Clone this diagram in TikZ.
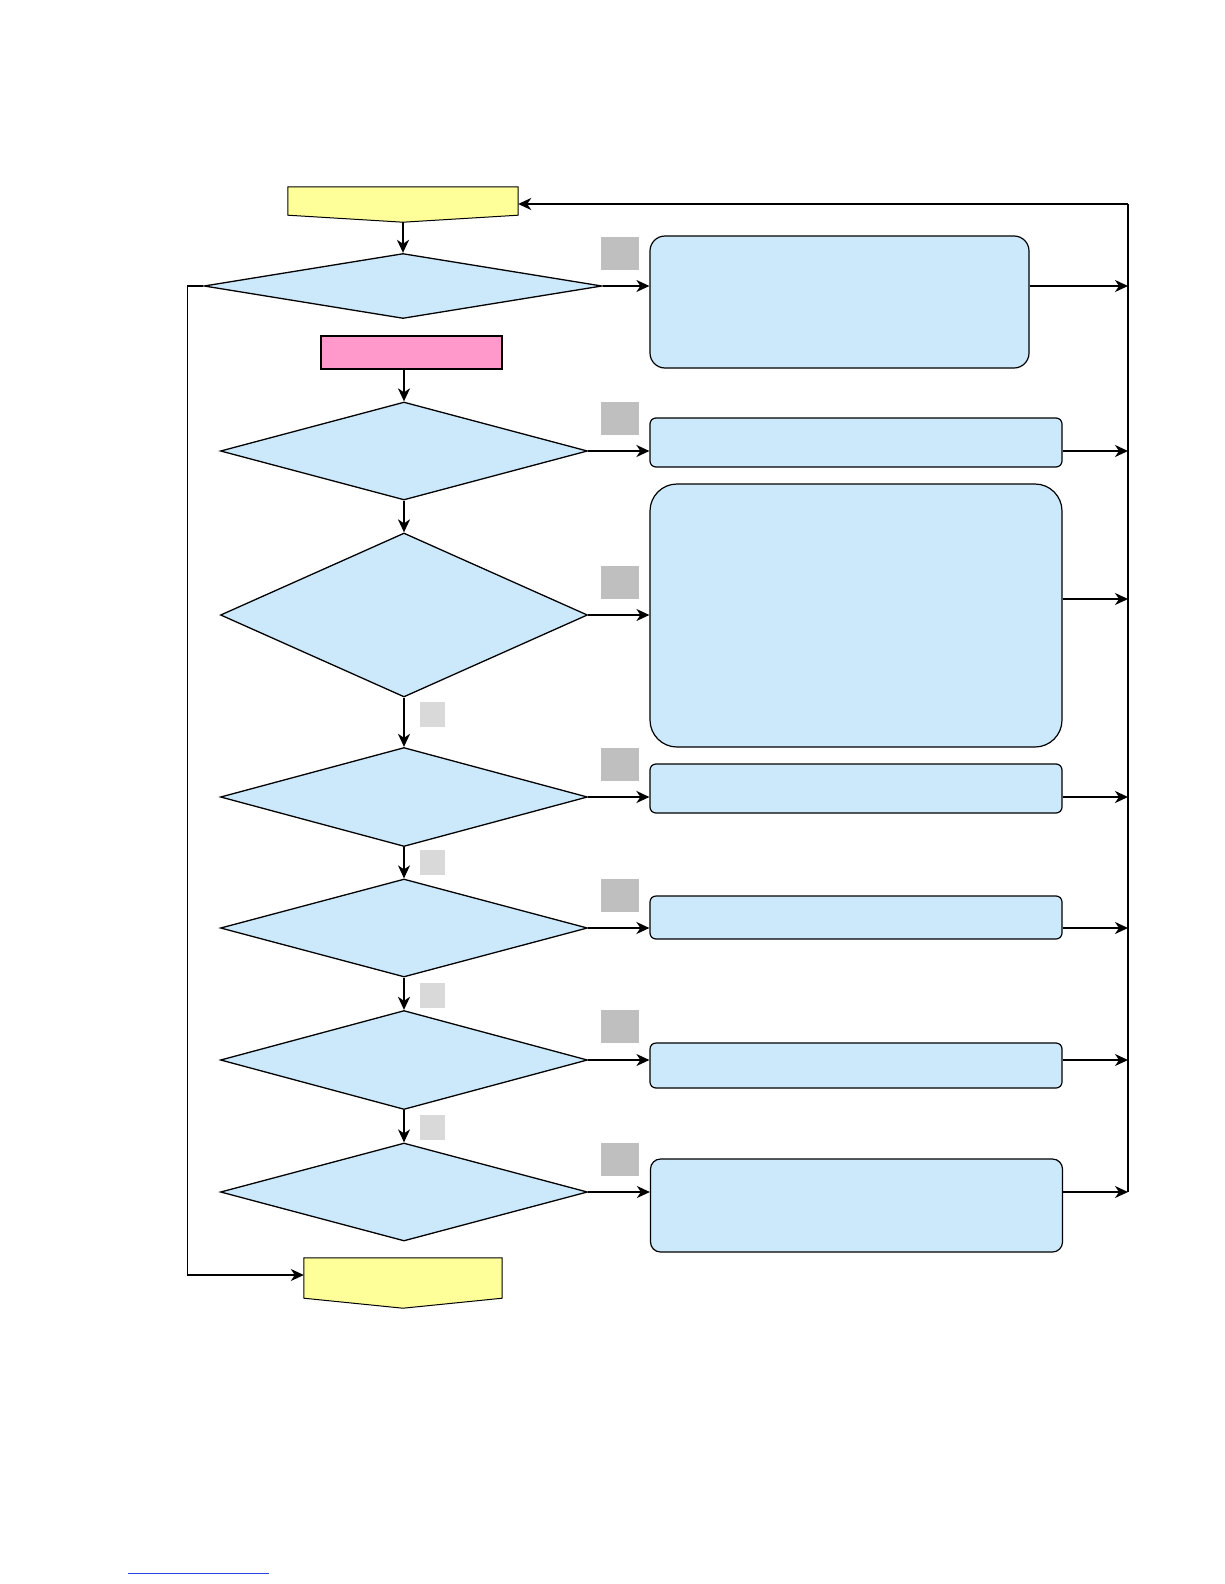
\documentclass[tikz,border=0pt]{standalone}
\usepackage{xcolor}
\usepackage{tikz}
\usetikzlibrary{arrows.meta, positioning, shapes.geometric}

\definecolor{panelblue}{RGB}{204,233,252}
\definecolor{termyellow}{RGB}{255,255,153}
\definecolor{entrypink}{RGB}{255,153,204}
\definecolor{badgegray}{RGB}{191,191,191}
\definecolor{taggray}{RGB}{217,217,217}
\definecolor{linkblue}{RGB}{40,70,220}

\begin{document}
\begin{tikzpicture}[
  x=1pt, y=-1pt,
  decision/.style={diamond, draw, fill=panelblue, inner sep=0pt, line width=1.3pt,
                   minimum width=367pt},
  action/.style={draw, fill=panelblue, line width=1.2pt, inner sep=0pt,
                 minimum width=412pt},
  badge/.style={fill=badgegray, inner sep=0pt, minimum width=38pt, minimum height=33pt},
  tag/.style={fill=taggray, inner sep=0pt, minimum width=25pt, minimum height=25pt},
  frame/.style={inner sep=0pt},
  arr/.style={-{Stealth[length=13pt, width=12pt, inset=4pt]}, line width=1.2pt},
  thickarr/.style={arr, line width=2pt}]
  \useasboundingbox (0,0) rectangle (1224,1584);

  % terminals and entry
  \node[frame, minimum width=230pt, minimum height=28pt] (start) at (403,201) {};
  \coordinate (start tip) at ([yshift=-7pt]start.south);
  \draw[fill=termyellow, line width=1pt] (start.north west) -- (start.north east)
        -- (start.south east) -- (start tip) -- (start.south west) -- cycle;
  \node[draw, fill=entrypink, line width=1.6pt, inner sep=0pt,
        minimum width=181pt, minimum height=33pt] (entry) at (411.5,352.5) {};
  \node[frame, minimum width=198pt, minimum height=40pt] (finish) at (403,1278) {};
  \coordinate (finish tip) at ([yshift=-10pt]finish.south);
  \draw[fill=termyellow, line width=1pt] (finish.north west) -- (finish.north east)
        -- (finish.south east) -- (finish tip) -- (finish.south west) -- cycle;

  % decisions
  \node[decision, minimum width=398pt, minimum height=65pt] (dec1) at (403,286) {};
  \node[decision, minimum height=98pt] (dec2) at (404,451) {};
  \node[decision, minimum height=164pt] (dec3) at (404,615) {};
  \node[decision, minimum height=99pt] (dec4) at (404,797) {};
  \node[decision, minimum height=98pt] (dec5) at (404,928) {};
  \node[decision, minimum height=99pt] (dec6) at (404,1060) {};
  \node[decision, minimum height=98pt] (dec7) at (404,1192) {};

  % actions
  \node[action, minimum width=379pt, minimum height=132pt, rounded corners=15pt] (act1) at (839.5,302) {};
  \node[action, minimum height=49pt, rounded corners=6pt] (act2) at (856,442.5) {};
  \node[action, minimum height=263pt, rounded corners=27pt] (act3) at (856,615.5) {};
  \node[action, minimum height=49pt, rounded corners=6pt] (act4) at (856,788.5) {};
  \node[action, minimum height=43pt, rounded corners=6pt] (act5) at (856,917.5) {};
  \node[action, minimum height=45pt, rounded corners=6pt] (act6) at (856,1065.5) {};
  \node[action, minimum height=93pt, rounded corners=10pt] (act7) at (856.5,1205.5) {};

  % markers
  \foreach \i/\y in {1/253.5, 2/418, 3/582.5, 4/764.5, 5/895.5, 6/1026.5, 7/1159}
    \node[badge] (badge\i) at (620,\y) {};
  \foreach \i/\y in {4/714.5, 5/862.5, 6/995, 7/1127}
    \node[tag] (tag\i) at (432.5,\y) {};

  \coordinate (rail top) at (1128,204);
  \coordinate (rail bottom) at (1128,1192);
  \coordinate (out3) at ([yshift=16.5pt]act3.east);

  % main column
  \draw[thickarr] (start tip) -- (dec1.north);
  \draw[thickarr] (entry.south -| dec2.north) -- (dec2.north);
  \draw[thickarr] (dec2.south) -- (dec3.north);
  \draw[thickarr] (dec3.south) -- (dec4.north);
  \draw[arr] (dec4.south) -- (dec5.north);
  \draw[thickarr] (dec5.south) -- (dec6.north);
  \draw[arr] (dec6.south) -- (dec7.north);

  % yes branches
  \draw[arr] (dec1.east) -- (dec1.east -| act1.west);
  \draw[thickarr] (dec2.east) -- (dec2.east -| act2.west);
  \draw[arr] (dec3.east) -- (dec3.east -| act3.west);
  \draw[thickarr] (dec4.east) -- (dec4.east -| act4.west);
  \draw[thickarr] (dec5.east) -- (dec5.east -| act5.west);
  \draw[arr] (dec6.east) -- (dec6.east -| act6.west);
  \draw[arr] (dec7.east) -- (dec7.east -| act7.west);

  % back to the rail
  \draw[arr] (act1.east |- dec1.east) -- (rail top |- dec1.east);
  \draw[thickarr] (act2.east |- dec2.east) -- (rail top |- dec2.east);
  \draw[arr] (out3) -- (out3 -| rail top);
  \draw[thickarr] (act4.east |- dec4.east) -- (rail top |- dec4.east);
  \draw[thickarr] (act5.east |- dec5.east) -- (rail top |- dec5.east);
  \draw[arr] (act6.east |- dec6.east) -- (rail top |- dec6.east);
  \draw[arr] (act7.east |- dec7.east) -- (rail top |- dec7.east);
  \draw[line width=1.2pt] (rail bottom) -- (rail top);
  \draw[thickarr] (rail top) -- (rail top -| start.east);

  % skip to the end
  \draw[arr] (dec1.west) -- ++(-16,0) |- ([yshift=3pt]finish.west);

  \draw[linkblue, line width=1pt] (128,1573) -- (269,1573);
\end{tikzpicture}
\end{document}
